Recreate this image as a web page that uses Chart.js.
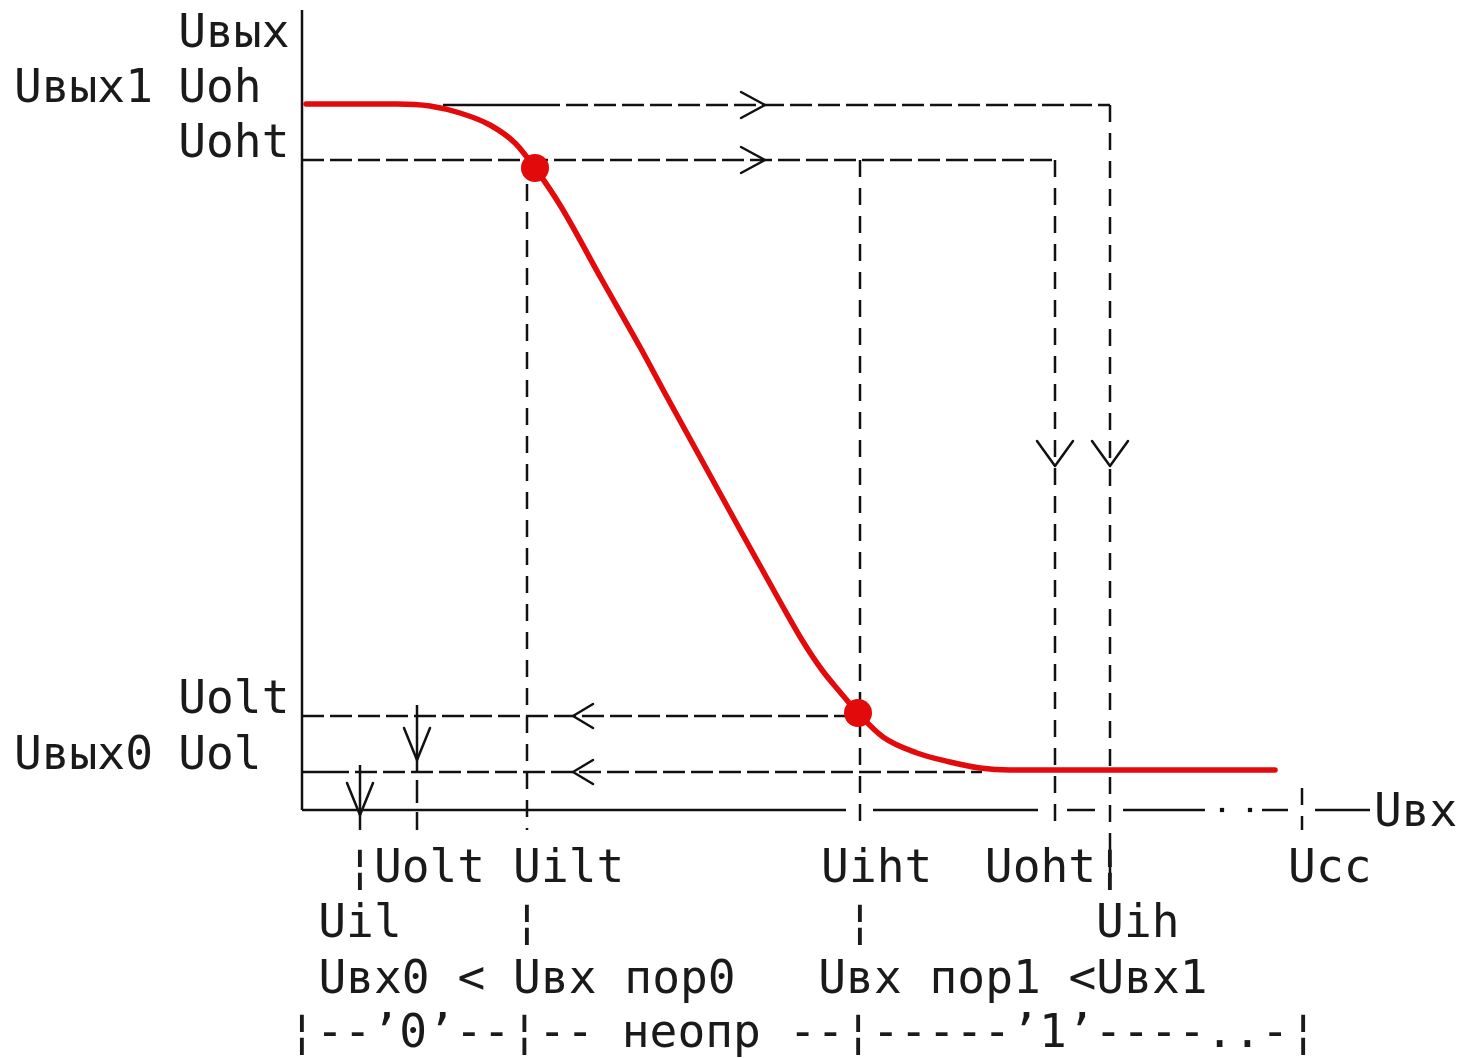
<!DOCTYPE html>
<html>
<head>
<meta charset="utf-8">
<script src="https://cdn.jsdelivr.net/npm/chart.js@4/dist/chart.umd.min.js"></script>
<style>
  html, body { margin: 0; padding: 0; background: #fff; }
  #wrap { width: 1470px; height: 1058px; position: relative; }
</style>
</head>
<body>
<div id="wrap"><canvas id="c"></canvas></div>
<script>
// ---- Output levels (Uвых) ----
const UOH  = 3.525;
const UOHT = 3.25;
const UOLT = 0.47;
const UOL  = 0.19;
const UOUT_TOP = 4.0;

// ---- Input levels (Uвх) ----
const UIL     = 0.29;
const UOLT_IN = 0.575;
const UILT    = 1.125;
const UIHT    = 2.79;
const UOHT_IN = 3.765;
const UIH     = 4.04;
const UCC     = 5.0;
const UIN_END = 5.34;

// ---- Transfer characteristic (red curve) ----
const curveX = [0.02, 0.475, 0.64, 0.79, 0.94, 1.065, 1.165, 1.29, 1.50, 1.69, 1.825, 2.155, 2.405, 2.50, 2.60, 2.69, 2.78, 2.905, 3.075, 3.24, 3.39, 3.54, 4.865];
const curveY = [3.53, 3.53, 3.52, 3.485, 3.425, 3.335, 3.21, 3.025, 2.65, 2.315, 2.065, 1.465, 1.015, 0.85, 0.70, 0.59, 0.485, 0.365, 0.285, 0.24, 0.21, 0.20, 0.20];

// ---- Threshold points on the curve ----
const markerX = [1.165, 2.78];
const markerY = [3.21, 0.485];

// ---- Arrow tips ----
const arrowRightX = [2.315, 2.315];
const arrowRightY = [UOH, UOHT];
const arrowLeftX  = [1.355, 1.355];
const arrowLeftY  = [UOLT, UOL];
const arrowDownX  = [UOHT_IN, UIH, UOLT_IN, UIL];
const arrowDownY  = [1.72, 1.72, 0.25, -0.025];

// ---- Axis break dots ----
const axisDotsX = [4.6, 4.74];

// ---- Tick labels ----
const yTickLabels = ['Uoh', 'Uoht', 'Uolt', 'Uol'];
const yTickValues = [UOH, UOHT, UOLT, UOL];
const yAxisTitle = 'Uвых';
const yOuterLabels = ['Uвых1', 'Uвых0'];
const yOuterValues = [UOH, UOL];
const xAxisTitle = 'Uвх';
const rowA = [['¦Uolt', UIL, -0.5], ['Uilt', UILT, -0.5], ['Uiht', UIHT, -1.4], ['Uoht¦', UIH, -4.5], ['Ucc', UCC, -0.5]];
const rowB = [['Uil', UIL, -1.5], ['¦', UILT, -0.5], ['¦', UIHT, -0.5], ['Uih', UIH, -0.5]];
const rowC = [['Uвх0 < Uвх пор0', UILT, -7.5], ['Uвх пор1 <Uвх1', UIHT, -1.5]];
const rowD = [['¦--’0’--¦-- неопр --¦-----’1’----..-¦', 0, -0.5]];

// ---- Guide segments built from the levels ----
const hDashed = [
  [[1.18, UOH], [UIH, UOH]],
  [[0, UOHT], [UOHT_IN, UOHT]],
  [[0, UOLT], [UIHT, UOLT]],
  [[0.125, UOL], [3.40, UOL]]
];
const vDashed = [
  [[UIH, UOH], [UIH, -0.35]],
  [[UOHT_IN, UOHT], [UOHT_IN, -0.1]],
  [[UIHT, UOHT], [UIHT, -0.1]],
  [[UILT, 3.13], [UILT, -0.1]],
  [[UCC, 0.11], [UCC, -0.1]]
];
const vShortDashed = [
  [[UOLT_IN, 0.15], [UOLT_IN, -0.1]],
  [[UIL, 0], [UIL, -0.1]]
];
const solid = [
  [[0, UOUT_TOP], [0, 0]],
  [[0, 0], [2.72, 0]],
  [[2.855, 0], [3.68, 0]],
  [[3.825, 0], [3.965, 0]],
  [[4.105, 0], [4.515, 0]],
  [[4.80, 0], [4.93, 0]],
  [[5.065, 0], [UIN_END, 0]],
  [[0.705, UOH], [1.18, UOH]],
  [[0, UOL], [0.125, UOL]],
  [[UOLT_IN, 0.525], [UOLT_IN, 0.19]],
  [[UIL, 0.225], [UIL, 0]]
];

const BLACK = '#111';
const RED = '#e20a0a';

function seg(points, dash) {
  return {
    data: points.map(p => ({ x: p[0], y: p[1] })),
    showLine: true, borderColor: BLACK, borderWidth: 2.5,
    borderDash: dash, pointRadius: 0, fill: false, order: 5
  };
}

const datasets = [];
hDashed.forEach(s => datasets.push(seg(s, [22, 6])));
vDashed.forEach(s => datasets.push(seg(s, [17, 11])));
vShortDashed.forEach(s => datasets.push(seg(s, [23, 9])));
solid.forEach(s => datasets.push(seg(s, [])));
datasets.push({
  data: axisDotsX.map(x => ({ x, y: 0 })),
  showLine: false, pointStyle: 'rect', pointRadius: 3,
  backgroundColor: BLACK, borderColor: BLACK, borderWidth: 0, order: 5
});
datasets.push({
  data: curveX.map((x, i) => ({ x, y: curveY[i] })),
  showLine: true, borderColor: RED, borderWidth: 5.5,
  cubicInterpolationMode: 'monotone', pointRadius: 0,
  borderCapStyle: 'round', borderJoinStyle: 'round', fill: false, order: 2
});
datasets.push({
  data: markerX.map((x, i) => ({ x, y: markerY[i] })),
  showLine: false, pointRadius: 14, backgroundColor: RED, borderColor: RED,
  borderWidth: 0, order: 1
});

const FONT = '46.2px "DejaVu Sans Mono", "Liberation Mono", monospace';

const overlay = {
  id: 'overlay',
  afterDatasetsDraw(chart) {
    const ctx = chart.ctx;
    const xs = chart.scales.x, ys = chart.scales.y;
    const px = v => xs.getPixelForValue(v);
    const py = v => ys.getPixelForValue(v);
    ctx.save();
    // arrows
    ctx.strokeStyle = BLACK;
    ctx.lineWidth = 2.5;
    ctx.lineCap = 'round';
    const draw = (x, y, arms) => {
      ctx.beginPath();
      arms.forEach(([dx, dy]) => { ctx.moveTo(x, y); ctx.lineTo(x + dx, y + dy); });
      ctx.stroke();
    };
    arrowRightX.forEach((x, i) => draw(px(x), py(arrowRightY[i]), [[-24, -13], [-24, 13]]));
    arrowLeftX.forEach((x, i) => draw(px(x), py(arrowLeftY[i]), [[20, -12], [20, 12]]));
    arrowDownX.forEach((x, i) => {
      const big = i < 2;
      draw(px(x), py(arrowDownY[i]), big ? [[-18, -25], [18, -25]] : [[-13, -32], [13, -32]]);
    });
    // text
    ctx.font = FONT;
    ctx.fillStyle = '#1a1a1a';
    ctx.textAlign = 'left';
    ctx.textBaseline = 'alphabetic';
    const cw = ctx.measureText('M').width;
    const x0 = px(0), y0 = py(0);
    yTickLabels.forEach((t, i) => ctx.fillText(t, x0 - 4.45 * cw, py(yTickValues[i]) - 3));
    yOuterLabels.forEach((t, i) => ctx.fillText(t, x0 - 10.36 * cw, py(yOuterValues[i]) - 3));
    ctx.fillText(yAxisTitle, x0 - 4.45 * cw, py(UOUT_TOP) + 37);
    ctx.fillText(xAxisTitle, px(UIN_END) + 4, y0 + 16);
    const rows = [[rowA, 72], [rowB, 127], [rowC, 183], [rowD, 237]];
    rows.forEach(([row, off]) => {
      row.forEach(([t, v, c]) => ctx.fillText(t, px(v) + c * cw, y0 + off));
    });
    ctx.restore();
  }
};

new Chart(document.getElementById('c'), {
  type: 'scatter',
  data: { datasets },
  options: {
    responsive: true,
    maintainAspectRatio: false,
    animation: false,
    events: [],
    layout: { padding: 0, autoPadding: false },
    plugins: { legend: { display: false }, tooltip: { enabled: false }, title: { display: false } },
    scales: {
      x: { type: 'linear', min: -1.51, max: 5.84, display: false },
      y: { type: 'linear', min: -1.24, max: 4.05, display: false }
    }
  },
  plugins: [overlay]
});
</script>
</body>
</html>
